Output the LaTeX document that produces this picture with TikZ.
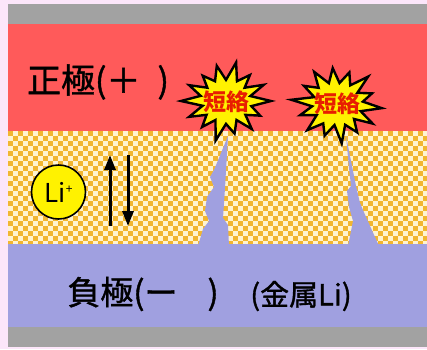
\documentclass[tikz,border=0pt]{standalone}
\usepackage{fontspec}
\setmainfont{Noto Sans CJK JP}
\newfontfamily\labelfont{Noto Sans CJK JP}[FakeBold=1.2]
\usetikzlibrary{arrows.meta}
\definecolor{pagebg}{HTML}{FCE6FA}
\definecolor{collector}{HTML}{A2A2A2}
\definecolor{cathode}{HTML}{FF5A5A}
\definecolor{anode}{HTML}{A0A0E0}
\definecolor{sepgold}{HTML}{F2B630}
\definecolor{sepcream}{HTML}{FFF3CF}
\definecolor{burstred}{HTML}{E81E00}
\begin{document}
\begin{tikzpicture}[x=1pt,y=-1pt,
  layer label/.style={inner sep=0, text=black},
  burstline/.style={draw=black, line width=2.4pt, fill=yellow, line join=miter, miter limit=5},
  bursttext/.style={inner sep=0, text=burstred, font=\bfseries\fontsize{23}{23}\selectfont},
  ionarrow/.style={line width=3pt, -{Triangle[width=11pt,length=15pt]}},
  dendrite/.style={fill=anode}]
  % page and bounding box
  \fill[pagebg] (0,0) rectangle (427,349);
  \useasboundingbox (0,0) rectangle (427,349);
  % current collectors and electrodes
  \fill[collector] (8,4) rectangle (427,24);
  \fill[cathode] (8,24) rectangle (427,131);
  % checkered separator
  \fill[sepcream] (8,131) rectangle (427,244);
  \begin{scope}
    \clip (8,131) rectangle (427,244);
    \foreach \j in {0,...,22} {
      \pgfmathtruncatemacro\off{mod(\j,2)*5}
      \foreach \i in {0,10,...,420}
        \fill[sepgold] (8+\i+\off,131+\j*5) rectangle ++(5,5);
    }
  \end{scope}
  \fill[anode] (8,244) rectangle (427,327);
  \fill[collector] (8,327) rectangle (427,347);
  % lithium dendrites growing from the negative electrode
  \fill[dendrite] (228,136) -- (225,188) -- (223,218) -- (228,225) -- (229,246)
    -- (198,246) -- (203,229) -- (209,221) -- (205,211) -- (207,197)
    -- (214,187) -- (210,177) -- (214,170) -- cycle;
  \fill[dendrite] (346,136) -- (356,186) -- (360,203) -- (366,217) -- (379,246)
    -- (348,246) -- (353,221) -- (349,207) -- (347,191) -- (351,186)
    -- (349,168) -- cycle;
  % short-circuit bursts
  \begin{scope}[shift={(226,101)}, yscale=0.88]
    \draw[burstline] (0:45) \foreach \a/\r in {13/26, 26/38, 39/25, 51/41, 64/24,
      77/38, 90/26, 103/46, 116/24, 129/38, 141/25, 154/41, 167/24, 180/45,
      193/26, 206/41, 219/24, 231/37, 244/25, 257/41, 270/24, 283/45, 296/25,
      309/38, 321/24, 334/42, 347/25} { -- (\a:\r) } -- cycle;
  \end{scope}
  \begin{scope}[shift={(337,104)}, yscale=0.88]
    \draw[burstline] (6:45) \foreach \a/\r in {19/25, 32/42, 45/24, 58/38, 71/25,
      84/45, 96/24, 109/38, 122/26, 135/42, 148/24, 161/39, 174/25, 186/46,
      199/24, 212/39, 225/26, 238/43, 251/25, 264/41, 276/24, 289/38, 302/25,
      315/44, 328/24, 341/37, 354/26} { -- (\a:\r) } -- cycle;
  \end{scope}
  \node[bursttext] (s1) at (226,102) {短絡};
  \node[bursttext] (s2) at (337,104) {短絡};
  % electrode labels
  \node[layer label, font=\labelfont\fontsize{34}{34}\selectfont] (pos) at (98,82)
    {正極(＋\hspace{17pt})};
  \node[layer label, font=\labelfont\fontsize{33}{33}\selectfont] (neg) at (143,294)
    {負極(ー\hspace{30pt})};
  \node[layer label, font=\labelfont\fontsize{29}{29}\selectfont] (metal) at (301,296)
    {(金属Li)};
  % lithium ion and its motion
  \node[circle, draw=black, line width=1.6pt, fill=yellow, minimum size=54pt,
    inner sep=0, font=\fontsize{26}{26}\selectfont] (li) at (58.5,192)
    {Li\raisebox{9pt}{\fontsize{12}{12}\selectfont +}};
  \coordinate (upS) at (110,226);
  \coordinate (upE) at (110,155);
  \coordinate (dnS) at (128,155);
  \coordinate (dnE) at (128,226);
  \draw[ionarrow] (upS) -- (upE);
  \draw[ionarrow] (dnS) -- (dnE);
\end{tikzpicture}
\end{document}
